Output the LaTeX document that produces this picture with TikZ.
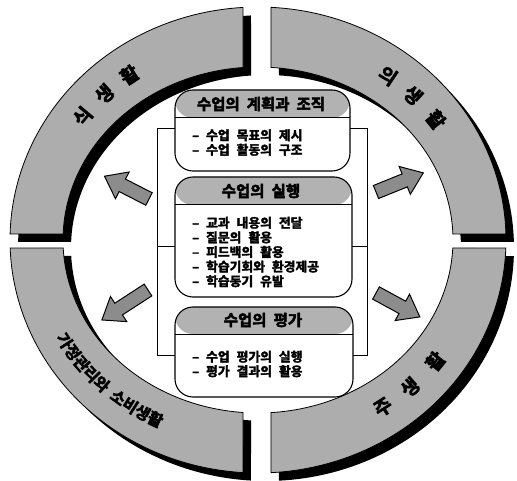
\documentclass[tikz,border=0pt]{standalone}
\usepackage{fontspec}
\setmainfont{Noto Sans CJK KR}
\newfontfamily\krb{Noto Sans CJK KR Bold}[FakeBold=2.5, WordSpace=2.4]
\newfontfamily\krh{Noto Sans CJK KR Bold}[FakeBold=3, WordSpace=2]
\usetikzlibrary{calc,decorations.text}
\tikzset{
  seg/.style={fill=black!32, draw=black, line width=0.8pt},
  segshadow/.style={fill=black},
  boxstyle/.style={draw=black, line width=1.1pt, fill=white, rounded corners=18pt, inner sep=0pt},
  hdrbox/.style={boxstyle, path picture={
      \fill[black!30] (path picture bounding box.north west) rectangle ([yshift=-#1pt]path picture bounding box.north east);
      \draw[line width=1pt] ([yshift=-#1pt]path picture bounding box.north west) -- ([yshift=-#1pt]path picture bounding box.north east);}},
  hdrtext/.style={font=\krh\fontsize{15.5}{16}\selectfont, inner sep=0pt},
  bodytext/.style={font=\krb\fontsize{12.8}{14.6}\selectfont, align=left, anchor=west, inner sep=0pt},
  ringlabel/.style={font=\krh\fontsize{19}{19}\selectfont, inner sep=0pt},
  bigarrow/.style={fill=black!45, draw=black, line width=1pt, line join=miter},
  bracket/.style={draw=black, line width=1pt},
}
\newcommand\ringtxt[7]{% name, char, t, rx, ry, dir, style
  \pgfmathsetmacro\rgX{258+#4*cos(#3)}%
  \pgfmathsetmacro\rgY{240-#5*sin(#3)}%
  \pgfmathsetmacro\rgR{atan2(#6*#5*cos(#3), -#6*#4*sin(#3))}%
  \node[#7, rotate=\rgR] (#1) at (\rgX,\rgY) {#2};%
}
\newcommand\bigarr[4]{% x, y, angle, length
  \begin{scope}[shift={(#1,#2)}, rotate=#3]
    \draw[bigarrow] (0,-7) -- ({#4-20},-7) -- ({#4-20},-15) -- (#4,0) -- ({#4-20},15) -- ({#4-20},7) -- (0,7) -- cycle;
  \end{scope}}
\begin{document}
\begin{tikzpicture}[x=1pt, y=-1pt]
  \fill[white] (0,0) rectangle (517,481);
  \useasboundingbox (0,0) rectangle (517,481);

  % ring segment shadows
  \foreach \a/\b/\c/\d in {93.47/178.52/178.01/94.41, 87.0/1.48/1.99/86.18, -1.97/-87.0/-86.18/-2.65, 181.97/266.53/265.59/182.65}{
    \fill[segshadow, shift={(8,8)}]
      plot[domain=\a:\b, samples=60] ({258+248*cos(\x)},{240-233*sin(\x)})
      -- plot[domain=\c:\d, samples=60] ({258+195*cos(\x)},{240-173*sin(\x)}) -- cycle;
  }
  % ring segments
  \foreach \a/\b/\c/\d in {93.47/178.52/178.01/94.41, 87.0/1.48/1.99/86.18, -1.97/-87.0/-86.18/-2.65, 181.97/266.53/265.59/182.65}{
    \path[seg]
      plot[domain=\a:\b, samples=60] ({258+248*cos(\x)},{240-233*sin(\x)})
      -- plot[domain=\c:\d, samples=60] ({258+195*cos(\x)},{240-173*sin(\x)}) -- cycle;
  }

  % ring labels
  \ringtxt{s1}{식}{142.5}{221}{203}{-1}{ringlabel}
  \ringtxt{s2}{생}{134}{221}{203}{-1}{ringlabel}
  \ringtxt{s3}{활}{125.6}{221}{203}{-1}{ringlabel}
  \ringtxt{u1}{의}{54}{221}{203}{-1}{ringlabel}
  \ringtxt{u2}{생}{45.5}{221}{203}{-1}{ringlabel}
  \ringtxt{u3}{활}{36.4}{221}{203}{-1}{ringlabel}
  \ringtxt{j1}{주}{-55.5}{221}{203}{1}{ringlabel}
  \ringtxt{j2}{생}{-46.5}{221}{203}{1}{ringlabel}
  \ringtxt{j3}{활}{-36.7}{221}{203}{1}{ringlabel}
  % bottom-left label along the ring
  \path[decorate, decoration={text along path, text align=center,
      text={|\krh\fontsize{16}{16}\selectfont|가정관리와 소비생활}}]
    plot[domain=200:252, samples=60] ({258+229*cos(\x)},{240-208*sin(\x)});

  % arrows
  \bigarr{149}{199}{152.9}{50}
  \bigarr{376}{192}{22}{51}
  \bigarr{148}{290}{213}{55}
  \bigarr{376}{293}{-28.6}{50}

  % bracket behind boxes
  \coordinate (bTL) at (157,129);
  \coordinate (bBR) at (367,355);
  \draw[bracket] (bTL) rectangle (bBR);
  \draw[bracket] (157,247) -- (367,247);

  % boxes
  \node[hdrbox=28, minimum width=175pt, minimum height=81pt] (b1) at (262.5,130.5) {};
  \node[hdrbox=28, minimum width=177pt, minimum height=120pt] (b2) at (263.5,237) {};
  \node[hdrbox=27, minimum width=178pt, minimum height=90pt] (b3) at (264,352) {};

  \node[hdrtext] (h1) at (261,104) {수업의 계획과 조직};
  \node[hdrtext] (h2) at (261,191) {수업의 실행};
  \node[hdrtext] (h3) at (263,320) {수업의 평가};

  \node[bodytext] (t1) at (192,142.5) {– 수업 목표의 제시\\– 수업 활동의 구조};
  \node[bodytext] (t2) at (192,252) {– 교과 내용의 전달\\– 질문의 활용\\– 피드백의 활용\\– 학습기회와 환경제공\\– 학습동기 유발};
  \node[bodytext] (t3) at (192,364) {– 수업 평가의 실행\\– 평가 결과의 활용};
\end{tikzpicture}
\end{document}
